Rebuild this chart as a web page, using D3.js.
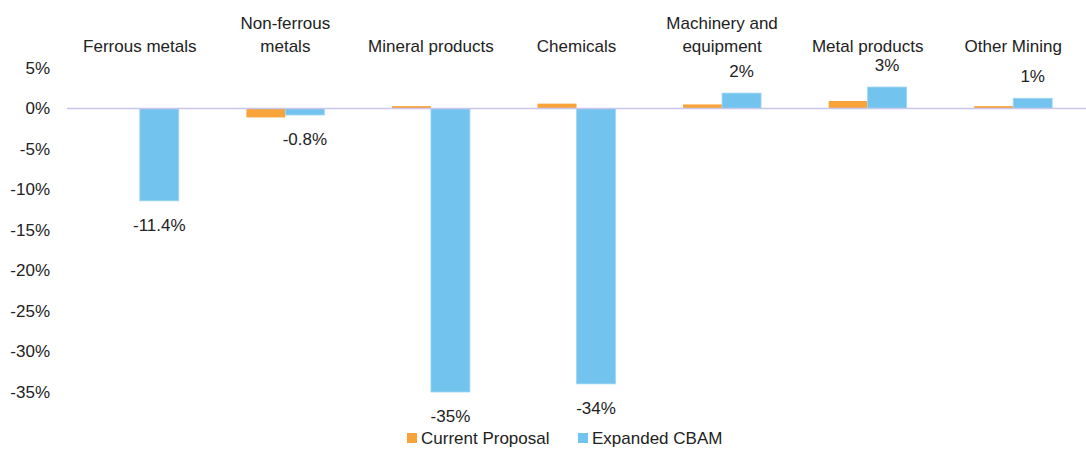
<!DOCTYPE html>
<html>
<head>
<meta charset="utf-8">
<script src="https://cdn.jsdelivr.net/npm/d3@7"></script>
<style>
  html, body { margin: 0; padding: 0; background: #fff; }
  svg { display: block; font-family: "Liberation Sans", Arial, sans-serif; }
</style>
</head>
<body>
<svg id="chart" width="1086" height="449"></svg>
<script>
// Sector categories (label lines) and the two scenarios
const categories = [
  ["Ferrous metals"],
  ["Non-ferrous", "metals"],
  ["Mineral products"],
  ["Chemicals"],
  ["Machinery and", "equipment"],
  ["Metal products"],
  ["Other Mining"]
];
const seriesNames = ["Current Proposal", "Expanded CBAM"];
const currentProposal = [0.0, -1.1, 0.3, 0.6, 0.5, 0.93, 0.3];
const expandedCBAM = [-11.4, -0.8, -35.0, -34.0, 1.9, 2.65, 1.26];
// decimals shown in each Expanded CBAM data label
const labelDecimals = [1, 1, 0, 0, 0, 0, 0];
const yTicks = [5, 0, -5, -10, -15, -20, -25, -30, -35];

const colors = { "Current Proposal": "#F9A43A", "Expanded CBAM": "#72C4EE" };
const fontSize = 17;

const svg = d3.select("#chart");
const left = 67, right = 1086;

const y = d3.scaleLinear().domain([-35, 5]).range([392, 68]);

const keys = categories.map((c, i) => i);
const x0 = d3.scaleBand().domain(keys).range([left, right]).padding(0);
const x1 = d3.scaleBand().domain(seriesNames).range([0, x0.bandwidth()])
  .paddingInner(0).paddingOuter(0.867);

// y axis labels (no line, no ticks)
const yAxis = d3.axisLeft(y).tickValues(yTicks).tickSize(0).tickPadding(0)
  .tickFormat(d => d + "%");
const gy = svg.append("g").attr("transform", `translate(50,0)`).call(yAxis);
gy.select(".domain").remove();
gy.selectAll("text").attr("font-size", fontSize).attr("fill", "#222")
  .attr("font-family", "Liberation Sans, Arial, sans-serif");

// bars
const data = keys.map(i => ({
  i,
  values: [
    { key: seriesNames[0], v: currentProposal[i] },
    { key: seriesNames[1], v: expandedCBAM[i] }
  ]
}));

const groups = svg.append("g").selectAll("g").data(data).join("g")
  .attr("transform", d => `translate(${x0(d.i)},0)`);

groups.selectAll("rect").data(d => d.values).join("rect")
  .attr("x", d => x1(d.key))
  .attr("width", x1.bandwidth())
  .attr("y", d => Math.min(y(d.v), y(0)))
  .attr("height", d => Math.abs(y(d.v) - y(0)))
  .attr("fill", d => colors[d.key])
  .attr("stroke", d => d.key === "Expanded CBAM" ? "#9ED5F3" : "none")
  .attr("stroke-width", 0.8);

// zero line
svg.append("line")
  .attr("x1", left).attr("x2", right)
  .attr("y1", y(0)).attr("y2", y(0))
  .attr("stroke", "#C9C6EE").attr("stroke-width", 1.6);

// data labels for Expanded CBAM
groups.append("text")
  .attr("x", d => x1(seriesNames[1]) + x1.bandwidth() / 2)
  .attr("y", d => {
    const v = expandedCBAM[d.i];
    return v < 0 ? y(v) + 24 : y(v) - 22;
  })
  .attr("dy", "0.35em")
  .attr("text-anchor", "middle")
  .attr("font-size", fontSize).attr("fill", "#222")
  .text(d => expandedCBAM[d.i].toFixed(labelDecimals[d.i]) + "%");

// category labels at the top
const catText = svg.append("g").selectAll("text").data(keys).join("text")
  .attr("x", i => x0(i) + x0.bandwidth() / 2)
  .attr("text-anchor", "middle")
  .attr("font-size", fontSize).attr("fill", "#222");
catText.each(function(i) {
  const lines = categories[i];
  const t = d3.select(this);
  lines.forEach((ln, k) => {
    t.append("tspan")
      .attr("x", x0(i) + x0.bandwidth() / 2)
      .attr("y", 46 - (lines.length - 1 - k) * 23)
      .attr("dy", "0.35em")
      .text(ln);
  });
});

// legend
const legend = svg.append("g");
const legendItems = [
  { key: seriesNames[0], x: 407 },
  { key: seriesNames[1], x: 578 }
];
legendItems.forEach(it => {
  legend.append("rect").attr("x", it.x).attr("y", 433).attr("width", 10).attr("height", 10)
    .attr("fill", colors[it.key]);
  legend.append("text").attr("x", it.x + 14).attr("y", 438).attr("dy", "0.35em")
    .attr("font-size", fontSize).attr("fill", "#222").text(it.key);
});
</script>
</body>
</html>
